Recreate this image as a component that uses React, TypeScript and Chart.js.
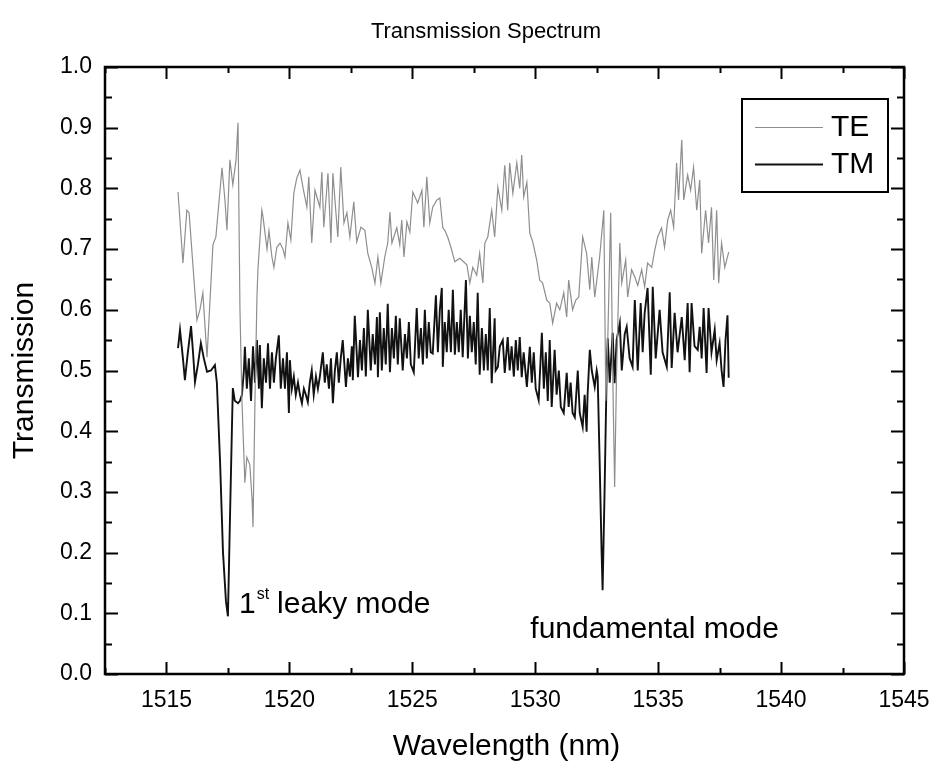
import React, { useEffect, useRef } from "react";
import { Chart, registerables } from "chart.js";

Chart.register(...registerables);

// ---------------- data ----------------
const seriesNames = ["TE", "TM"];
const xTickValues = [1515, 1520, 1525, 1530, 1535, 1540, 1545];
const yTickValues = [0, 0.1, 0.2, 0.3, 0.4, 0.5, 0.6, 0.7, 0.8, 0.9, 1.0];
const xRange = [1512.5, 1545];
const yRange = [0, 1];

const teWavelength = [
  1515.47, 1515.67, 1515.83, 1515.92, 1516.24, 1516.36, 1516.48, 1516.65, 1516.89, 1517.01,
  1517.26, 1517.38, 1517.46, 1517.58, 1517.70, 1517.83, 1517.91, 1517.99, 1518.07, 1518.19,
  1518.27, 1518.39, 1518.48, 1518.52, 1518.60, 1518.68, 1518.72, 1518.88, 1518.92, 1519.09,
  1519.17, 1519.29, 1519.37, 1519.49, 1519.62, 1519.74, 1519.82, 1519.94, 1520.06, 1520.18,
  1520.30, 1520.43, 1520.55, 1520.71, 1520.79, 1520.91, 1521.04, 1521.24, 1521.32, 1521.40,
  1521.57, 1521.69, 1521.77, 1521.97, 1522.09, 1522.22, 1522.34, 1522.46, 1522.62, 1522.74,
  1522.91, 1523.07, 1523.19, 1523.35, 1523.48, 1523.60, 1523.72, 1523.88, 1524.00, 1524.09,
  1524.17, 1524.37, 1524.49, 1524.57, 1524.66, 1524.78, 1524.90, 1525.02, 1525.22, 1525.39,
  1525.47, 1525.59, 1525.71, 1525.83, 1526.00, 1526.12, 1526.24, 1526.32, 1526.44, 1526.57,
  1526.73, 1526.93, 1527.22, 1527.34, 1527.46, 1527.62, 1527.74, 1527.87, 1527.95, 1528.07,
  1528.23, 1528.35, 1528.48, 1528.64, 1528.76, 1528.88, 1528.96, 1529.09, 1529.25, 1529.37,
  1529.45, 1529.53, 1529.66, 1529.78, 1529.90, 1530.06, 1530.18, 1530.30, 1530.47, 1530.59,
  1530.71, 1530.87, 1531.00, 1531.16, 1531.28, 1531.36, 1531.52, 1531.65, 1531.77, 1531.93,
  1532.09, 1532.22, 1532.30, 1532.42, 1532.62, 1532.79, 1532.87, 1532.95, 1533.07, 1533.15,
  1533.23, 1533.31, 1533.44, 1533.52, 1533.68, 1533.76, 1533.92, 1534.05, 1534.17, 1534.33,
  1534.45, 1534.57, 1534.74, 1534.86, 1534.98, 1535.14, 1535.26, 1535.39, 1535.51, 1535.63,
  1535.75, 1535.83, 1535.96, 1536.04, 1536.20, 1536.32, 1536.44, 1536.57, 1536.69, 1536.77,
  1536.93, 1537.05, 1537.17, 1537.26, 1537.38, 1537.46, 1537.58, 1537.71, 1537.87,
];

const teTransmission = [
  0.794, 0.677, 0.764, 0.76, 0.583, 0.60, 0.628, 0.522, 0.707, 0.72,
  0.834, 0.78, 0.731, 0.847, 0.806, 0.847, 0.908, 0.60, 0.45, 0.315,
  0.357, 0.345, 0.29, 0.242, 0.45, 0.62, 0.666, 0.764, 0.755, 0.70,
  0.73, 0.687, 0.67, 0.703, 0.71, 0.70, 0.687, 0.743, 0.715, 0.792,
  0.817, 0.83, 0.802, 0.769, 0.819, 0.71, 0.797, 0.769, 0.827, 0.736,
  0.825, 0.71, 0.825, 0.72, 0.835, 0.743, 0.76, 0.72, 0.778, 0.712,
  0.736, 0.731, 0.693, 0.67, 0.644, 0.687, 0.644, 0.687, 0.71, 0.761,
  0.71, 0.735, 0.707, 0.748, 0.687, 0.745, 0.728, 0.794, 0.776, 0.797,
  0.736, 0.819, 0.743, 0.769, 0.781, 0.784, 0.735, 0.731, 0.72, 0.703,
  0.679, 0.685, 0.674, 0.644, 0.67, 0.657, 0.693, 0.644, 0.71, 0.72,
  0.764, 0.72, 0.802, 0.764, 0.838, 0.764, 0.842, 0.792, 0.842, 0.80,
  0.855, 0.786, 0.81, 0.726, 0.712, 0.682, 0.649, 0.644, 0.616, 0.611,
  0.578, 0.611, 0.60, 0.628, 0.588, 0.649, 0.60, 0.616, 0.621, 0.72,
  0.693, 0.633, 0.687, 0.621, 0.687, 0.764, 0.45, 0.55, 0.76, 0.50,
  0.308, 0.50, 0.71, 0.644, 0.682, 0.621, 0.666, 0.654, 0.64, 0.666,
  0.638, 0.677, 0.67, 0.698, 0.72, 0.735, 0.703, 0.748, 0.764, 0.736,
  0.842, 0.781, 0.88, 0.781, 0.822, 0.797, 0.835, 0.764, 0.814, 0.693,
  0.764, 0.71, 0.769, 0.649, 0.764, 0.644, 0.71, 0.67, 0.695,
];

// [wavelength (nm), transmission]
const tmSpectrum: [number, number][] = [
  [1515.47, 0.537], [1515.55, 0.567], [1515.67, 0.52], [1515.75, 0.484], [1515.87, 0.53],
  [1516.00, 0.573], [1516.08, 0.53], [1516.16, 0.481], [1516.28, 0.51], [1516.40, 0.545],
  [1516.52, 0.52], [1516.65, 0.498], [1516.81, 0.50], [1516.97, 0.509], [1517.05, 0.48],
  [1517.18, 0.35], [1517.30, 0.20], [1517.42, 0.12], [1517.50, 0.095], [1517.58, 0.25],
  [1517.66, 0.40], [1517.70, 0.471], [1517.78, 0.45], [1517.91, 0.446], [1517.99, 0.45],
  [1518.07, 0.46], [1518.15, 0.50], [1518.19, 0.539], [1518.27, 0.47], [1518.35, 0.52],
  [1518.44, 0.45], [1518.52, 0.54], [1518.60, 0.48], [1518.68, 0.55], [1518.76, 0.47],
  [1518.80, 0.542], [1518.88, 0.438], [1518.96, 0.52], [1519.05, 0.48], [1519.13, 0.545],
  [1519.21, 0.47], [1519.29, 0.53], [1519.37, 0.48], [1519.45, 0.52], [1519.57, 0.558],
  [1519.65, 0.47], [1519.74, 0.52], [1519.82, 0.47], [1519.90, 0.53], [1519.98, 0.43],
  [1520.02, 0.517], [1520.10, 0.47], [1520.18, 0.49], [1520.26, 0.46], [1520.35, 0.48],
  [1520.43, 0.46], [1520.51, 0.446], [1520.59, 0.47], [1520.67, 0.46], [1520.75, 0.448],
  [1520.83, 0.48], [1520.91, 0.50], [1520.99, 0.46], [1521.08, 0.49], [1521.16, 0.47],
  [1521.24, 0.49], [1521.36, 0.53], [1521.44, 0.48], [1521.52, 0.51], [1521.61, 0.47],
  [1521.69, 0.52], [1521.77, 0.446], [1521.85, 0.50], [1521.93, 0.53], [1522.01, 0.48],
  [1522.09, 0.52], [1522.17, 0.55], [1522.30, 0.473], [1522.38, 0.52], [1522.46, 0.49],
  [1522.54, 0.54], [1522.58, 0.484], [1522.66, 0.59], [1522.79, 0.489], [1522.87, 0.55],
  [1522.95, 0.50], [1523.03, 0.57], [1523.11, 0.49], [1523.19, 0.60], [1523.31, 0.50],
  [1523.39, 0.56], [1523.48, 0.51], [1523.56, 0.588], [1523.60, 0.489], [1523.68, 0.596],
  [1523.76, 0.50], [1523.84, 0.57], [1523.92, 0.51], [1524.00, 0.61], [1524.09, 0.497],
  [1524.17, 0.57], [1524.25, 0.52], [1524.33, 0.59], [1524.41, 0.51], [1524.49, 0.586],
  [1524.61, 0.50], [1524.70, 0.56], [1524.78, 0.52], [1524.86, 0.58], [1524.94, 0.51],
  [1525.06, 0.497], [1525.18, 0.603], [1525.26, 0.52], [1525.35, 0.57], [1525.43, 0.51],
  [1525.51, 0.60], [1525.59, 0.52], [1525.67, 0.58], [1525.75, 0.53], [1525.83, 0.528],
  [1525.96, 0.624], [1526.04, 0.53], [1526.12, 0.60], [1526.20, 0.636], [1526.24, 0.506],
  [1526.32, 0.58], [1526.40, 0.53], [1526.48, 0.60], [1526.57, 0.53], [1526.65, 0.633],
  [1526.73, 0.526], [1526.81, 0.58], [1526.89, 0.53], [1526.97, 0.60], [1527.05, 0.522],
  [1527.18, 0.649], [1527.26, 0.52], [1527.34, 0.59], [1527.42, 0.53], [1527.50, 0.58],
  [1527.58, 0.51], [1527.66, 0.628], [1527.74, 0.493], [1527.83, 0.57], [1527.91, 0.50],
  [1527.99, 0.56], [1528.07, 0.50], [1528.15, 0.603], [1528.23, 0.479], [1528.35, 0.586],
  [1528.39, 0.50], [1528.48, 0.506], [1528.56, 0.54], [1528.68, 0.55], [1528.76, 0.496],
  [1528.88, 0.555], [1528.96, 0.50], [1529.04, 0.54], [1529.13, 0.49], [1529.21, 0.55],
  [1529.29, 0.50], [1529.37, 0.555], [1529.45, 0.489], [1529.53, 0.53], [1529.66, 0.473],
  [1529.78, 0.539], [1529.86, 0.48], [1529.94, 0.53], [1530.02, 0.47], [1530.14, 0.451],
  [1530.27, 0.562], [1530.35, 0.47], [1530.43, 0.53], [1530.51, 0.45], [1530.59, 0.55],
  [1530.67, 0.44], [1530.79, 0.534], [1530.87, 0.46], [1530.96, 0.50], [1531.04, 0.44],
  [1531.16, 0.43], [1531.28, 0.496], [1531.36, 0.44], [1531.44, 0.48], [1531.52, 0.43],
  [1531.61, 0.423], [1531.73, 0.50], [1531.81, 0.43], [1531.93, 0.407], [1532.01, 0.46],
  [1532.09, 0.399], [1532.13, 0.46], [1532.22, 0.534], [1532.30, 0.50], [1532.42, 0.473],
  [1532.50, 0.50], [1532.54, 0.49], [1532.62, 0.35], [1532.70, 0.20], [1532.74, 0.138],
  [1532.82, 0.30], [1532.91, 0.506], [1532.95, 0.553], [1533.03, 0.48], [1533.15, 0.562],
  [1533.23, 0.479], [1533.31, 0.55], [1533.44, 0.578], [1533.52, 0.50], [1533.64, 0.56],
  [1533.72, 0.572], [1533.84, 0.52], [1533.96, 0.506], [1534.05, 0.616], [1534.17, 0.50],
  [1534.29, 0.611], [1534.37, 0.53], [1534.45, 0.594], [1534.57, 0.636], [1534.70, 0.493],
  [1534.78, 0.638], [1534.90, 0.52], [1535.06, 0.60], [1535.18, 0.53], [1535.35, 0.506],
  [1535.47, 0.629], [1535.55, 0.504], [1535.67, 0.595], [1535.79, 0.53], [1535.96, 0.588],
  [1536.08, 0.517], [1536.20, 0.611], [1536.28, 0.497], [1536.36, 0.611], [1536.48, 0.54],
  [1536.61, 0.534], [1536.69, 0.572], [1536.77, 0.52], [1536.85, 0.603], [1536.97, 0.496],
  [1537.05, 0.603], [1537.17, 0.53], [1537.30, 0.567], [1537.38, 0.517], [1537.50, 0.545],
  [1537.58, 0.50], [1537.66, 0.473], [1537.74, 0.55], [1537.82, 0.591], [1537.87, 0.488],
];

// annotations (position in data units: left edge, baseline)
const leakyLabel = { lead: "1", sup: "st", rest: "leaky mode", x: 1517.95, y: 0.1 };
const fundamentalLabel = { text: "fundamental mode", x: 1529.8, y: 0.059 };

const FONT = '"Liberation Sans", Arial, Helvetica, sans-serif';

const decorPlugin = {
  id: "decor",
  afterDatasetsDraw(chart: any) {
    const { ctx, chartArea: a, scales } = chart;
    const xs = scales.x;
    const ys = scales.y;
    ctx.save();
    ctx.strokeStyle = "#000";
    ctx.fillStyle = "#000";

    // frame
    ctx.lineWidth = 2.5;
    ctx.strokeRect(a.left, a.top, a.right - a.left, a.bottom - a.top);

    // ticks (inward, mirrored)
    ctx.lineWidth = 2;
    ctx.beginPath();
    for (let i = 0; i <= 13; i++) {
      const v = xRange[0] + i * 2.5;
      const px = Math.round(xs.getPixelForValue(v)) + 0.5;
      const major = i % 2 === 1;
      const len = major ? 12 : 6;
      ctx.moveTo(px, a.bottom);
      ctx.lineTo(px, a.bottom - len);
      ctx.moveTo(px, a.top);
      ctx.lineTo(px, a.top + len);
    }
    for (let i = 0; i <= 20; i++) {
      const v = i * 0.05;
      const py = Math.round(ys.getPixelForValue(v)) + 0.5;
      const major = i % 2 === 0;
      const len = major ? 13 : 7;
      ctx.moveTo(a.left, py);
      ctx.lineTo(a.left + len, py);
      ctx.moveTo(a.right, py);
      ctx.lineTo(a.right - len, py);
    }
    ctx.stroke();

    // title
    ctx.textAlign = "center";
    ctx.textBaseline = "alphabetic";
    ctx.font = `22px ${FONT}`;
    ctx.fillText("Transmission Spectrum", 486, 38);

    // axis titles
    ctx.font = `30px ${FONT}`;
    ctx.fillText("Wavelength (nm)", (a.left + a.right) / 2 + 2, 755);
    ctx.save();
    ctx.translate(33, (a.top + a.bottom) / 2);
    ctx.rotate(-Math.PI / 2);
    ctx.fillText("Transmission", 0, 0);
    ctx.restore();

    // annotations
    ctx.textAlign = "left";
    const lx = xs.getPixelForValue(leakyLabel.x);
    const ly = ys.getPixelForValue(leakyLabel.y);
    ctx.font = `30px ${FONT}`;
    ctx.fillText(leakyLabel.lead, lx, ly);
    const w1 = ctx.measureText(leakyLabel.lead).width;
    ctx.font = `16px ${FONT}`;
    ctx.fillText(leakyLabel.sup, lx + w1 + 1, ly - 14);
    const w2 = ctx.measureText(leakyLabel.sup).width;
    ctx.font = `30px ${FONT}`;
    ctx.fillText(leakyLabel.rest, lx + w1 + w2 + 9, ly);

    ctx.fillText(
      fundamentalLabel.text,
      xs.getPixelForValue(fundamentalLabel.x),
      ys.getPixelForValue(fundamentalLabel.y)
    );

    // legend
    const lgX = 742, lgY = 99, lgW = 146, lgH = 93;
    ctx.fillStyle = "#fff";
    ctx.fillRect(lgX, lgY, lgW, lgH);
    ctx.fillStyle = "#000";
    ctx.lineWidth = 2;
    ctx.strokeRect(lgX, lgY, lgW, lgH);
    const ds = chart.data.datasets;
    const rows = [127, 164];
    ds.forEach((d: any, i: number) => {
      ctx.strokeStyle = d.borderColor;
      ctx.lineWidth = d.borderWidth;
      ctx.beginPath();
      ctx.moveTo(755, rows[i] + 0.5);
      ctx.lineTo(823, rows[i] + 0.5);
      ctx.stroke();
      ctx.font = `30px ${FONT}`;
      ctx.textBaseline = "middle";
      ctx.fillText(d.label, 831, rows[i] + 1);
    });
    ctx.restore();
  },
};

export default function App() {
  const ref = useRef<HTMLCanvasElement>(null);
  useEffect(() => {
    document.body.style.margin = "0";
    const canvas = ref.current!;
    const tePoints = teWavelength.map((w, i) => ({ x: w, y: teTransmission[i] }));
    const tmPoints = tmSpectrum.map(([w, t]) => ({ x: w, y: t }));
    const chart = new Chart(canvas, {
      type: "line",
      data: {
        datasets: [
          {
            label: seriesNames[0],
            data: tePoints,
            borderColor: "#8e8e8e",
            borderWidth: 1.2,
            pointRadius: 0,
            tension: 0,
            fill: false,
          },
          {
            label: seriesNames[1],
            data: tmPoints,
            borderColor: "#111111",
            borderWidth: 1.9,
            pointRadius: 0,
            tension: 0,
            fill: false,
          },
        ],
      },
      options: {
        animation: false,
        responsive: false,
        devicePixelRatio: 1,
        layout: { padding: { left: 0, top: 67, right: 30, bottom: 0 } },
        plugins: { legend: { display: false }, title: { display: false }, tooltip: { enabled: false } },
        scales: {
          x: {
            type: "linear",
            min: xRange[0],
            max: xRange[1],
            grid: { display: false, drawTicks: false },
            border: { display: false },
            ticks: {
              color: "#000",
              font: { family: FONT, size: 23 },
              padding: 13,
              maxRotation: 0,
              autoSkip: false,
              callback: (v: any) => String(v),
            },
            afterBuildTicks: (s: any) => {
              s.ticks = xTickValues.map((v) => ({ value: v }));
            },
            afterFit: (s: any) => {
              s.height = 89;
              s.paddingLeft = 0;
              s.paddingRight = 0;
            },
          },
          y: {
            type: "linear",
            min: yRange[0],
            max: yRange[1],
            grid: { display: false, drawTicks: false },
            border: { display: false },
            ticks: {
              color: "#000",
              font: { family: FONT, size: 23 },
              padding: 13,
              autoSkip: false,
              callback: (v: any) => Number(v).toFixed(1),
            },
            afterBuildTicks: (s: any) => {
              s.ticks = yTickValues.map((v) => ({ value: v }));
            },
            afterFit: (s: any) => {
              s.width = 105;
              s.paddingTop = 0;
              s.paddingBottom = 0;
            },
          },
        },
      },
      plugins: [decorPlugin],
    });
    return () => chart.destroy();
  }, []);
  return (
    <div style={{ position: "fixed", left: 0, top: 0, width: 934, height: 763, background: "#fff" }}>
      <canvas ref={ref} width={934} height={763} style={{ display: "block" }} />
    </div>
  );
}
